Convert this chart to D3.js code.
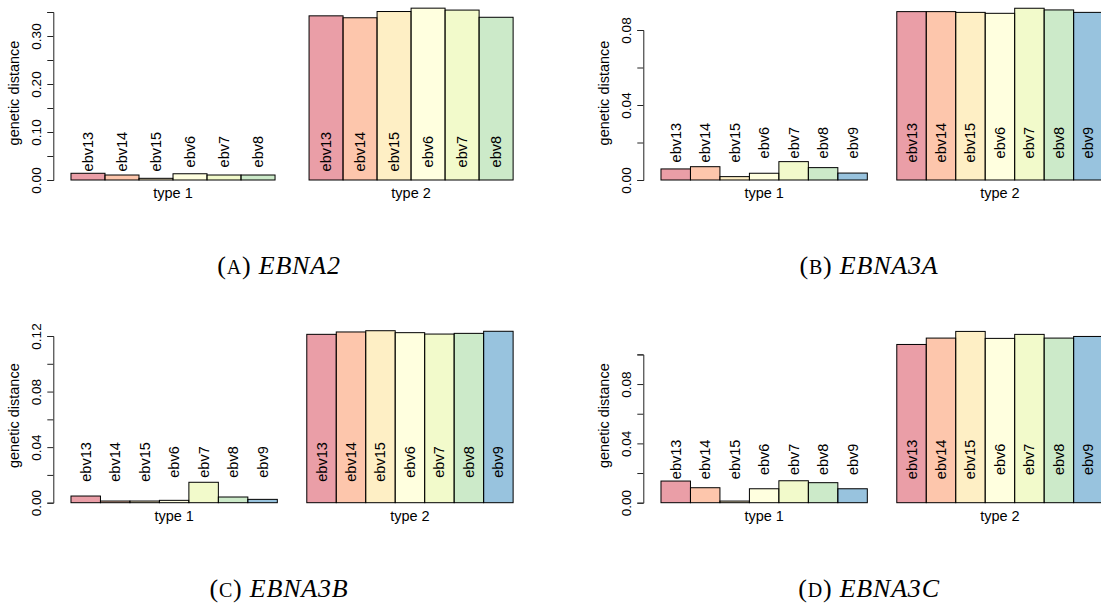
<!DOCTYPE html>
<html>
<head>
<meta charset="utf-8">
<script src="https://cdn.jsdelivr.net/npm/d3@7"></script>
<style>
  body { margin: 0; background: #fff; }
  svg text { font-family: "Liberation Sans", Arial, sans-serif; fill: #000; }
  text.caption { font-family: "Palatino Linotype", "Book Antiqua", "Liberation Serif", serif; }
</style>
</head>
<body>
<div id="chart"></div>
<script>
// strains, in bar order
var strains = ["ebv13", "ebv14", "ebv15", "ebv6", "ebv7", "ebv8", "ebv9"]
var groups = ["type 1", "type 2"]

// genetic distance
var ebna2Type1 = [0.0140, 0.0104, 0.0035, 0.0130, 0.0104, 0.0104]
var ebna2Type2 = [0.342, 0.338, 0.351, 0.358, 0.354, 0.339]
var ebna3aType1 = [0.0059, 0.0071, 0.0018, 0.0036, 0.0098, 0.0066, 0.0037]
var ebna3aType2 = [0.0898, 0.0898, 0.0894, 0.0889, 0.0916, 0.0907, 0.0894]
var ebna3bType1 = [0.0048, 0.0012, 0.0012, 0.0017, 0.0147, 0.0041, 0.0024]
var ebna3bType2 = [0.1212, 0.1229, 0.1238, 0.1224, 0.1214, 0.1219, 0.1234]
var ebna3cType1 = [0.0146, 0.0101, 0.0011, 0.0094, 0.0148, 0.0135, 0.0094]
var ebna3cType2 = [0.1067, 0.1110, 0.1155, 0.1108, 0.1135, 0.1110, 0.1121]

// y axis ticks, and which of them carry a label
var ticksA = [0, 0.05, 0.10, 0.15, 0.20, 0.25, 0.30, 0.35]
var labelsA = ["0.00", "0.10", "0.20", "0.30"]
var ticksB = [0, 0.02, 0.04, 0.06, 0.08]
var labelsB = ["0.00", "0.04", "0.08"]
var ticksC = [0, 0.02, 0.04, 0.06, 0.08, 0.10, 0.12]
var labelsC = ["0.00", "0.04", "0.08", "0.12"]
var ticksD = [0, 0.02, 0.04, 0.06, 0.08, 0.10]
var labelsD = ["0.00", "0.04", "0.08"]

var w = 1101, h = 603

var svg = d3.select("#chart")
	.append("svg")
	.attr("width", w)
	.attr("height", h)

svg.append("rect").attr("width", w).attr("height", h).attr("fill", "#fff")

// colours: Spectral at half alpha
var colour = d3.scaleOrdinal()
	.domain(strains)
	.range(d3.schemeSpectral[7])

// panel layout
var panels = [
	{ letter: "A", gene: "EBNA2", t1: ebna2Type1, t2: ebna2Type2, ticks: ticksA, labels: labelsA, top: 0.35, topPx: 12, nameY: 0.059, col: 0, row: 0 },
	{ letter: "B", gene: "EBNA3A", t1: ebna3aType1, t2: ebna3aType2, ticks: ticksB, labels: labelsB, top: 0.08, topPx: 30, nameY: 0.0199, col: 1, row: 0 },
	{ letter: "C", gene: "EBNA3B", t1: ebna3bType1, t2: ebna3bType2, ticks: ticksC, labels: labelsC, top: 0.12, topPx: 13.3, nameY: 0.0293, col: 0, row: 1 },
	{ letter: "D", gene: "EBNA3C", t1: ebna3cType1, t2: ebna3cType2, ticks: ticksD, labels: labelsD, top: 0.10, topPx: 31.7, nameY: 0.0292, col: 1, row: 1 }
]

var colOffset = 590, rowOffset = 322.7
var plotLeft = 53.3, plotWidth = 477.5, base = 180

panels.forEach(function(p) {
	var g = svg.append("g")
		.attr("transform", "translate(" + (p.col * colOffset) + "," + (p.row * rowOffset) + ")")

	var k = p.t1.length
	var span = 2 * k + 1
	// bar units, R barplot style: groups at [1, k+1] and [k+2, 2k+2]
	var x = d3.scaleLinear()
		.domain([1 - 0.04 * span, 2 * k + 2 + 0.04 * span])
		.range([plotLeft, plotLeft + plotWidth])

	var y = d3.scaleLinear()
		.domain([0, p.top])
		.range([base, p.topPx])

	var bars = []
	p.t1.forEach(function(v, i) { bars.push({ strain: strains[i], value: v, u: 1 + i }) })
	p.t2.forEach(function(v, i) { bars.push({ strain: strains[i], value: v, u: k + 2 + i }) })

	g.selectAll("rect.bar")
		.data(bars)
		.enter()
		.append("rect")
		.classed("bar", true)
		.attr("x", function(d) { return x(d.u) })
		.attr("width", function(d) { return x(d.u + 1) - x(d.u) })
		.attr("y", function(d) { return y(d.value) })
		.attr("height", function(d) { return y(0) - y(d.value) })
		.attr("fill", function(d) { return colour(d.strain) })
		.attr("fill-opacity", 0.5)
		.attr("stroke", "#000")
		.attr("stroke-width", 1)

	// strain names, rotated, at a fixed height
	g.selectAll("text.name")
		.data(bars)
		.enter()
		.append("text")
		.classed("name", true)
		.attr("transform", function(d) {
			return "translate(" + (x(d.u + 0.5) + 5) + "," + y(p.nameY) + ") rotate(-90)"
		})
		.attr("text-anchor", "middle")
		.style("font-size", "14.5px")
		.text(function(d) { return d.strain })

	// group labels
	g.selectAll("text.group")
		.data(groups)
		.enter()
		.append("text")
		.classed("group", true)
		.attr("x", function(d, i) { return x(i * (k + 1) + 1 + k / 2) })
		.attr("y", base + 18)
		.attr("text-anchor", "middle")
		.style("font-size", "14.5px")
		.text(function(d) { return d })

	// y axis
	var yAxis = d3.axisLeft(y)
		.tickValues(p.ticks)
		.tickSizeOuter(0)
		.tickSize(6)
		.tickFormat(function(d) {
			var s = d3.format(".2f")(d)
			return p.labels.indexOf(s) >= 0 ? s : ""
		})

	var ax = g.append("g")
		.attr("transform", "translate(" + plotLeft + ",0)")
		.call(yAxis)

	ax.select(".domain").attr("stroke", "#222")
	ax.selectAll(".tick line").attr("stroke", "#222")
	ax.selectAll(".tick text")
		.attr("x", null)
		.attr("dy", null)
		.attr("transform", "translate(-12,0) rotate(-90)")
		.attr("text-anchor", "middle")
		.style("font-family", "'Liberation Sans', Arial, sans-serif")
		.style("font-size", "13.5px")
		.attr("fill", "#000")

	g.append("text")
		.attr("transform", "translate(19,93) rotate(-90)")
		.attr("text-anchor", "middle")
		.style("font-size", "14.5px")
		.text("genetic distance")

	// caption
	var cap = g.append("text")
		.classed("caption", true)
		.attr("x", 279)
		.attr("y", 274)
		.attr("text-anchor", "middle")
		.style("font-size", "26px")
		.style("letter-spacing", "0.8px")
	cap.append("tspan").text("(")
	cap.append("tspan").style("font-size", "20px").text(p.letter)
	cap.append("tspan").text(") ")
	cap.append("tspan").style("font-style", "italic").text(p.gene)
})
</script>
</body>
</html>
